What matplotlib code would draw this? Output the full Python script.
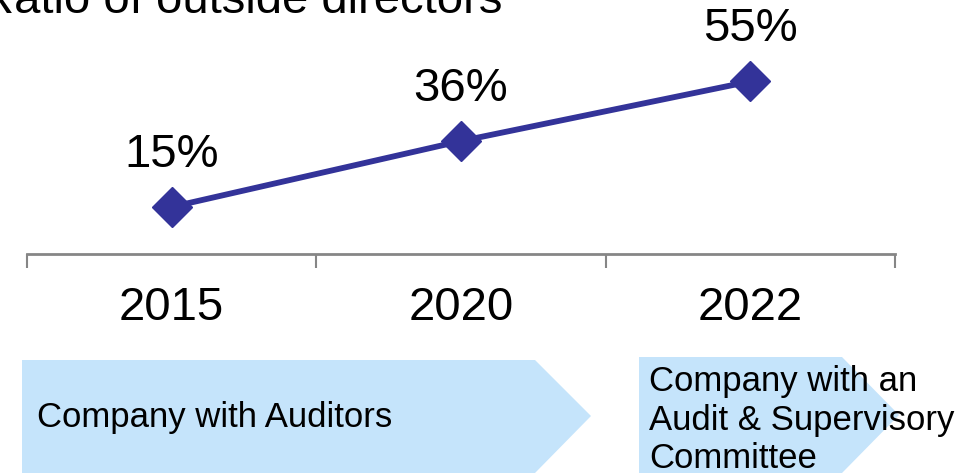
import numpy as np
import matplotlib.pyplot as plt
from matplotlib.patches import Polygon

plt.rcParams['font.family'] = ['Liberation Sans', 'DejaVu Sans']

# data
years = ['2015', '2020', '2022']
ratio = [15, 36, 55]
title = 'Ratio of outside directors'
phase_labels = ['Company with Auditors', 'Company with an\nAudit & Supervisory\nCommittee']

LINE_COLOR = '#333399'
ARROW_COLOR = '#C5E4FB'
AXIS_COLOR = '#868686'

W, H = 978, 473
fig = plt.figure(figsize=(W / 100, H / 100), dpi=100)

# background layer in pixel coordinates for the phase arrows and the title
bg = fig.add_axes([0, 0, 1, 1])
bg.set_xlim(0, W)
bg.set_ylim(H, 0)
bg.axis('off')

left_arrow = [(22, 360), (535, 360), (591, 416), (535, 473), (22, 473)]
right_arrow = [(639, 357), (842, 357), (899, 415), (842, 473), (639, 473)]
for pts in (left_arrow, right_arrow):
    bg.add_patch(Polygon(pts, closed=True, facecolor=ARROW_COLOR, edgecolor='none'))

bg.text(37, 417, phase_labels[0], fontsize=25, va='center', ha='left')
bg.text(649, 420, phase_labels[1], fontsize=25, va='center', ha='left',
        linespacing=1.22)
bg.text(502, 13, title, fontsize=34, va='baseline', ha='right')

# line chart
ax = fig.add_axes([27 / W, (H - 254) / H, 868 / W, 251 / H])
ax.patch.set_alpha(0)
x = np.arange(len(years))
ax.plot(x, ratio, color=LINE_COLOR, linewidth=4.2, marker='D', markersize=20,
        clip_on=False, zorder=3)
for xi, v in zip(x, ratio):
    ax.annotate(f'{v}%', (xi, v), xytext=(0, 29), textcoords='offset points',
                ha='center', va='baseline', fontsize=34)

ax.set_xlim(-0.5, len(years) - 0.5)
ax.set_ylim(0, 80)
for s in ('top', 'right', 'left'):
    ax.spines[s].set_visible(False)
ax.spines['bottom'].set_color(AXIS_COLOR)
ax.spines['bottom'].set_linewidth(2)
ax.set_yticks([])
ax.set_xticks(np.arange(-0.5, len(years)), labels=[])
ax.tick_params(axis='x', which='major', length=10, width=1.5, color=AXIS_COLOR,
               direction='out')
ax.set_xticks(x, labels=years, minor=True)
ax.tick_params(axis='x', which='minor', length=0, pad=23, labelsize=34)

fig.savefig('out.png', dpi=100)
